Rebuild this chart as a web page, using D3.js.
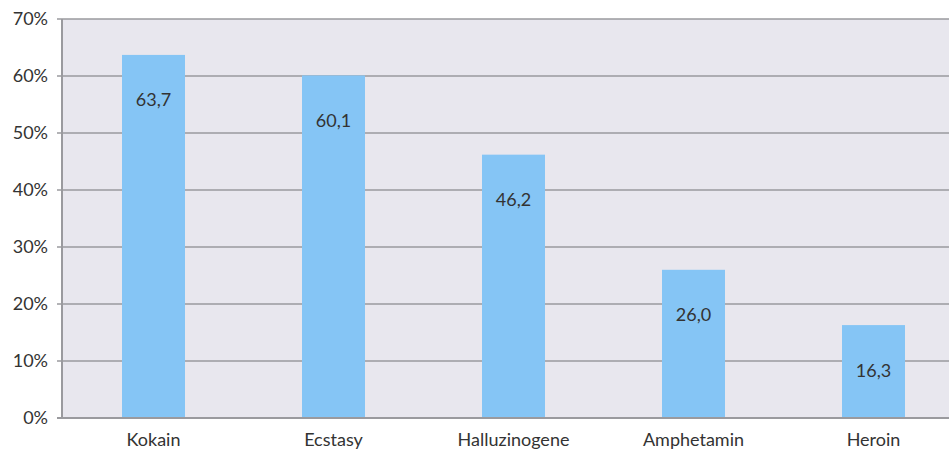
<!DOCTYPE html>
<html><head><meta charset="utf-8">
<script src="https://cdn.jsdelivr.net/npm/d3@7"></script>
<style>body{margin:0;background:#fff;} text{font-family:Lato,"Open Sans",sans-serif;}</style>
</head><body>
<svg id="c" width="949" height="450"></svg>
<script>
const categories = ["Kokain","Ecstasy","Halluzinogene","Amphetamin","Heroin"];
const values = [63.7,60.1,46.2,26.0,16.3];
const valueLabels = ["63,7","60,1","46,2","26,0","16,3"];
const yTicks = [0,10,20,30,40,50,60,70];

(function(){
const svg = d3.select("#c");
const mLeft = 62, mTop = 19, mBottom = 418, mRight = 963.5;
const fs = 18;
const x = d3.scaleBand().domain(categories).range([63.5, mRight]).padding(0);
const y = d3.scaleLinear().domain([0,70]).range([mBottom, mTop]);
const barW = 63;

svg.append("rect").attr("x", mLeft).attr("y", mTop).attr("width", 949-mLeft).attr("height", mBottom-mTop).attr("fill", "#e8e7ee");

const g = svg.append("g");
g.selectAll("line.grid").data(yTicks).join("line")
  .attr("x1", mLeft-5).attr("x2", 949)
  .attr("y1", d=>y(d)).attr("y2", d=>y(d))
  .attr("stroke", "#9a9a9e").attr("stroke-width", 1.5);

g.selectAll("text.yt").data(yTicks).join("text")
  .attr("x", 48).attr("y", d=>y(d)).attr("dy","0.36em")
  .attr("text-anchor","end").attr("font-size",fs).attr("fill","#333")
  .text(d=>d+"%");

g.selectAll("rect.bar").data(values).join("rect")
  .attr("x",(d,i)=>x(categories[i])+x.bandwidth()/2-barW/2)
  .attr("width",barW)
  .attr("y",d=>y(d)).attr("height",d=>mBottom-y(d))
  .attr("fill","#85c5f5");

g.selectAll("text.vl").data(values).join("text")
  .attr("x",(d,i)=>x(categories[i])+x.bandwidth()/2)
  .attr("y",d=>y(d)+45).attr("dy","0.36em")
  .attr("text-anchor","middle").attr("font-size",fs).attr("fill","#333")
  .text((d,i)=>valueLabels[i]);

g.selectAll("text.cat").data(categories).join("text")
  .attr("x",d=>x(d)+x.bandwidth()/2)
  .attr("y",440).attr("dy","0.36em")
  .attr("text-anchor","middle").attr("font-size",fs).attr("fill","#333")
  .text(d=>d);

g.append("line").attr("x1",mLeft).attr("x2",mLeft).attr("y1",mTop).attr("y2",mBottom)
  .attr("stroke","#9a9a9e").attr("stroke-width",2);
g.append("line").attr("x1",mLeft-5).attr("x2",949).attr("y1",mBottom).attr("y2",mBottom)
  .attr("stroke","#9a9a9e").attr("stroke-width",2);
})();
</script>
</body></html>
